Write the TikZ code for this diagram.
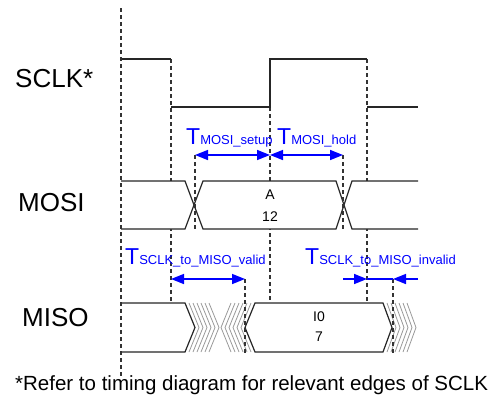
\documentclass[tikz,border=0pt]{standalone}
\usepackage{fontspec}
\setmainfont{Liberation Sans}
\usetikzlibrary{arrows.meta,positioning}
\tikzset{
  wave/.style={line width=1.2pt, draw=black!85},
  bus/.style={wave, fill=white},
  guide/.style={line width=1.1pt, draw=black!80, dash pattern=on 4pt off 3pt},
  hatch/.style={line width=0.8pt, draw=black!40},
  dimarr/.style={{Triangle[length=13pt,width=10pt]}-{Triangle[length=13pt,width=10pt]}, line width=1.5pt, blue},
  inarr/.style={-{Triangle[length=13pt,width=10pt]}, line width=1.5pt, blue},
  sig/.style={font=\fontsize{26}{28}\selectfont, anchor=west, inner sep=0pt},
  tlbl/.style={text=blue, anchor=base west, inner sep=0pt},
  val/.style={font=\fontsize{14}{16}\selectfont, inner sep=0pt},
  note/.style={font=\fontsize{20.5}{22}\selectfont, anchor=west, inner sep=0pt}}
\newcommand{\tname}[1]{{\fontsize{23}{24}\selectfont T}{\fontsize{13}{14}\selectfont #1}}

\begin{document}
\begin{tikzpicture}[x=1pt,y=-1pt]
  \useasboundingbox (0,0) rectangle (503,405);
  \node[sig] (sclk) at (15,79) {SCLK*};
  \node[sig] (mosi) at (18,203) {MOSI};
  \node[sig] (miso) at (22,318) {MISO};
  \draw[guide] (171,59) -- (171,303);
  \draw[guide] (270,107) -- (270,303);
  \draw[guide] (367,59) -- (367,303);
  \draw[wave] (121,59) -- (171,59) (171,107) -- (270,107) -- (270,59) -- (367,59) (367,107) -- (418,107);
  \draw[bus] (121,181) -- (185,181) -- (194,205) -- (185,229) -- (121,229);
  \draw[bus] (194,205) -- (203,181) -- (336,181) -- (344,205) -- (336,229) -- (203,229) -- cycle;
  \draw[bus] (418,181) -- (352,181) -- (344,205) -- (352,229) -- (418,229);
  \draw[bus] (121,303) -- (185,303) -- (195,327.5) -- (185,352) -- (121,352);
  \foreach \d in {4,8,...,24}
    \draw[hatch] ({185+\d},303) -- ({195+\d},327.5) -- ({185+\d},352);
  \foreach \d in {4,8,...,24}
    \draw[hatch] ({255-\d},303) -- ({245-\d},327.5) -- ({255-\d},352);
  \draw[bus] (255,303) -- (383,303) -- (392,327.5) -- (383,352) -- (255,352) -- (245,327.5) -- cycle;
  \foreach \d in {4,8,...,24}
    \draw[hatch] ({383+\d},303) -- ({392+\d},327.5) -- ({383+\d},352);
  \node[val] (a) at (270,195) {A};
  \node[val] (twelve) at (270,217) {12};
  \node[val] (io) at (319,317) {I0};
  \node[val] (seven) at (319,337) {7};
  \draw[guide] (121,8) -- (121,377);
  \draw[guide] (195,155) -- (195,231);
  \draw[guide] (343,155) -- (343,231);
  \draw[guide] (245,279) -- (245,355);
  \draw[guide] (393,279) -- (393,355);
  \coordinate (s0) at (195,155);
  \coordinate (s1) at (270,155);
  \coordinate (s2) at (343,155);
  \coordinate (v0) at (171,279);
  \coordinate (v1) at (245,279);
  \coordinate (i0) at (343,279);
  \coordinate (i1) at (367,279);
  \coordinate (i2) at (393,279);
  \coordinate (i3) at (418,279);
  \draw[dimarr] (s0) -- (s1);
  \draw[dimarr] (s1) -- (s2);
  \draw[dimarr] (v0) -- (v1);
  \draw[inarr] (i0) -- (i1);
  \draw[blue, line width=1.5pt] (i1) -- (i2);
  \draw[inarr] (i3) -- (i2);
  \node[tlbl] (setup) at (186,144) {\tname{MOSI\_setup}};
  \node[tlbl] (hold) at (277,144) {\tname{MOSI\_hold}};
  \node[tlbl] (valid) at (125,264) {\tname{SCLK\_to\_MISO\_valid}};
  \node[tlbl] (invalid) at (305,264) {\tname{SCLK\_to\_MISO\_invalid}};
  \node[note] (ref) at (15,385) {*Refer to timing diagram for relevant edges of SCLK};
\end{tikzpicture}
\end{document}
